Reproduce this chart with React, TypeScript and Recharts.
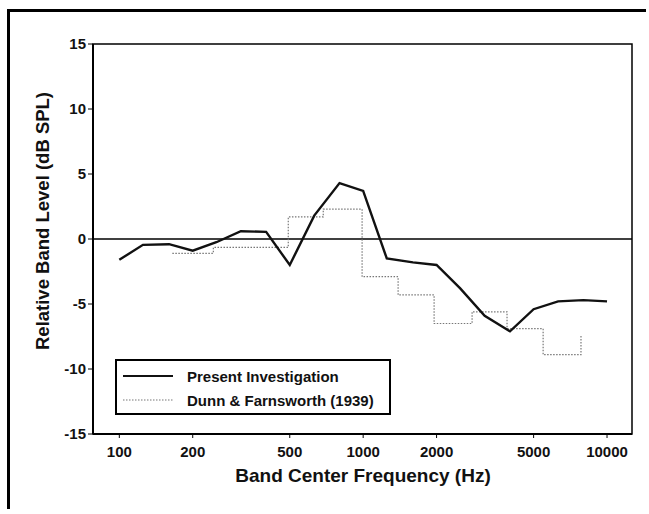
import { LineChart, Line, XAxis, YAxis, ReferenceLine, ReferenceArea, Legend } from "recharts"

// 1/3-octave band centres and the measured relative levels
const frequencies = [100, 125, 160, 200, 250, 315, 400, 500, 630, 800, 1000, 1250, 1600, 2000, 2500, 3150, 4000, 5000, 6300, 8000, 10000]
const presentLevels = [-1.6, -0.45, -0.4, -0.9, -0.25, 0.6, 0.55, -2.0, 1.8, 4.3, 3.7, -1.5, -1.8, -2.0, -3.8, -5.9, -7.1, -5.4, -4.8, -4.7, -4.8]

// Dunn & Farnsworth band edges (lower edge of each step) and step levels
const dunnEdges = [165, 243, 493, 686, 990, 1391, 1954, 2797, 3890, 5470, 7820]
const dunnLevels = [-1.1, -0.65, 1.7, 2.3, -2.9, -4.3, -6.5, -5.6, -6.9, -8.9, -7.4]

const xTicks = [100, 200, 500, 1000, 2000, 5000, 10000]
const yTicks = [-15, -10, -5, 0, 5, 10, 15]
const xDomain = [78, 12660]

const present = frequencies.map((f, i) => ({ freq: f, level: presentLevels[i] }))
const dunn = dunnEdges.map((f, i) => ({ freq: f, level: dunnLevels[i] }))

const font = "'Liberation Sans', Arial, Helvetica, sans-serif"

function LegendBox() {
  return (
    <div
      style={{
        width: 272,
        height: 52,
        border: "2px solid #000",
        background: "#fff",
        fontFamily: font,
        fontWeight: "bold",
        fontSize: 15,
        color: "#111",
      }}
    >
      <div style={{ display: "flex", alignItems: "center", height: 24, marginTop: 3 }}>
        <svg width={70} height={10}>
          <line x1={6} y1={5} x2={56} y2={5} stroke="#111" strokeWidth={2} />
        </svg>
        <span>Present Investigation</span>
      </div>
      <div style={{ display: "flex", alignItems: "center", height: 24 }}>
        <svg width={70} height={10}>
          <line x1={6} y1={5} x2={56} y2={5} stroke="#777" strokeWidth={1.2} strokeDasharray="1.5 1.5" />
        </svg>
        <span>Dunn &amp; Farnsworth (1939)</span>
      </div>
    </div>
  )
}

export default function App() {
  return (
    <div style={{ position: "relative", width: 649, height: 514, background: "#fff", overflow: "hidden" }}>
      <style>{`html,body{margin:0;padding:0;overflow:hidden}`}</style>
      {/* outer figure frame: top and left edges only */}
      <div style={{ position: "absolute", left: 7, top: 9, width: 639, height: 3, background: "#000" }} />
      <div style={{ position: "absolute", left: 7, top: 9, width: 3, height: 500, background: "#000" }} />
      <LineChart
        width={649}
        height={514}
        data={present}
        margin={{ top: 44, right: 17, left: 0, bottom: 0 }}
        style={{ position: "absolute", left: 0, top: 0 }}
      >
        <XAxis
          dataKey="freq"
          type="number"
          scale="log"
          domain={xDomain}
          ticks={xTicks}
          allowDataOverflow
          height={80}
          tickSize={4}
          tickMargin={8}
          stroke="#000"
          axisLine={{ strokeWidth: 2 }}
          tick={{ fill: "#111", fontSize: 15, fontWeight: "bold", fontFamily: font }}
          label={{
            content: () => (
              <text x={363} y={482} textAnchor="middle" fill="#111" fontSize={19} fontWeight="bold" fontFamily={font}>
                Band Center Frequency (Hz)
              </text>
            ),
          }}
        />
        <YAxis
          type="number"
          domain={[-15, 15]}
          ticks={yTicks}
          width={93}
          tickSize={5}
          tickMargin={2}
          stroke="#000"
          axisLine={{ strokeWidth: 2 }}
          tick={{ fill: "#111", fontSize: 15, fontWeight: "bold", fontFamily: font }}
          label={{
            content: () => (
              <text
                x={49}
                y={221}
                transform="rotate(-90, 49, 221)"
                textAnchor="middle"
                fill="#111"
                fontSize={18.5}
                fontWeight="bold"
                fontFamily={font}
              >
                Relative Band Level (dB SPL)
              </text>
            ),
          }}
        />
        <ReferenceArea x1={xDomain[0]} x2={xDomain[1]} y1={-15} y2={15} fill="none" stroke="#000" strokeWidth={1.5} />
        <ReferenceLine y={0} stroke="#000" strokeWidth={1.5} />
        <Line
          data={dunn}
          dataKey="level"
          type="stepAfter"
          stroke="#777"
          strokeWidth={1.2}
          strokeDasharray="1.5 1.5"
          dot={false}
          isAnimationActive={false}
        />
        <Line
          dataKey="level"
          type="linear"
          stroke="#111"
          strokeWidth={2.4}
          dot={false}
          isAnimationActive={false}
        />
        <Legend
          layout="horizontal"
          verticalAlign="middle"
          align="center"
          wrapperStyle={{ left: 115, top: 359, width: 276, height: 56 }}
          content={() => <LegendBox />}
        />
      </LineChart>
    </div>
  )
}
